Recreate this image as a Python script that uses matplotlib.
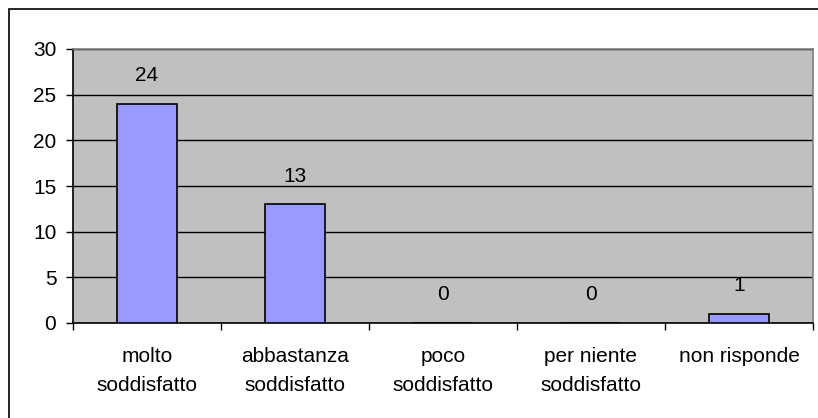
import matplotlib.pyplot as plt
from matplotlib.patches import Rectangle

# data
categories = ['molto\nsoddisfatto', 'abbastanza\nsoddisfatto', 'poco\nsoddisfatto',
              'per niente\nsoddisfatto', 'non risponde']
values = [24, 13, 0, 0, 1]
yticks = [0, 5, 10, 15, 20, 25, 30]

plt.rcParams['font.family'] = ['Liberation Sans', 'DejaVu Sans']
fs = 15

fig = plt.figure(figsize=(8.18, 4.18), dpi=100)
ax = fig.add_axes([73 / 818, 1 - 323 / 418, 740 / 818, 274 / 418])

# outer chart border (only left/top visible in reference)
fig.patches.append(Rectangle((9 / 818, -0.1), 1.2, 1 - 9 / 418 + 0.1,
                             transform=fig.transFigure, fill=False,
                             edgecolor='black', linewidth=1.2))

ax.set_facecolor('#C0C0C0')
x = list(range(len(categories)))
ax.bar(x, values, width=0.41, color='#9999FF', edgecolor='black', linewidth=1.2, zorder=3)
for xi, v in zip(x, values):
    ax.annotate(str(v), (xi, v), xytext=(0, 13.5), textcoords='offset points',
                ha='center', va='bottom', fontsize=fs)

ax.set_xlim(-0.5, len(categories) - 0.5)
ax.set_ylim(0, 30)
ax.set_yticks(yticks)
ax.yaxis.grid(True, color='black', linewidth=1)
ax.set_axisbelow(True)

ax.set_xticks([i - 0.5 for i in range(len(categories) + 1)])
ax.set_xticklabels([])
ax.set_xticks(x, minor=True)
ax.set_xticklabels(categories, minor=True, fontsize=fs, linespacing=1.7)
ax.tick_params(axis='x', which='major', length=5, width=1, direction='out')
ax.tick_params(axis='x', which='minor', length=0, pad=17)
ax.tick_params(axis='y', length=5, width=1, pad=7, labelsize=fs)

for s in ['left', 'bottom']:
    ax.spines[s].set_color('black')
    ax.spines[s].set_linewidth(1.2)
for s in ['top', 'right']:
    ax.spines[s].set_color('#808080')
    ax.spines[s].set_linewidth(1.2)

fig.savefig('out.png', dpi=100)
